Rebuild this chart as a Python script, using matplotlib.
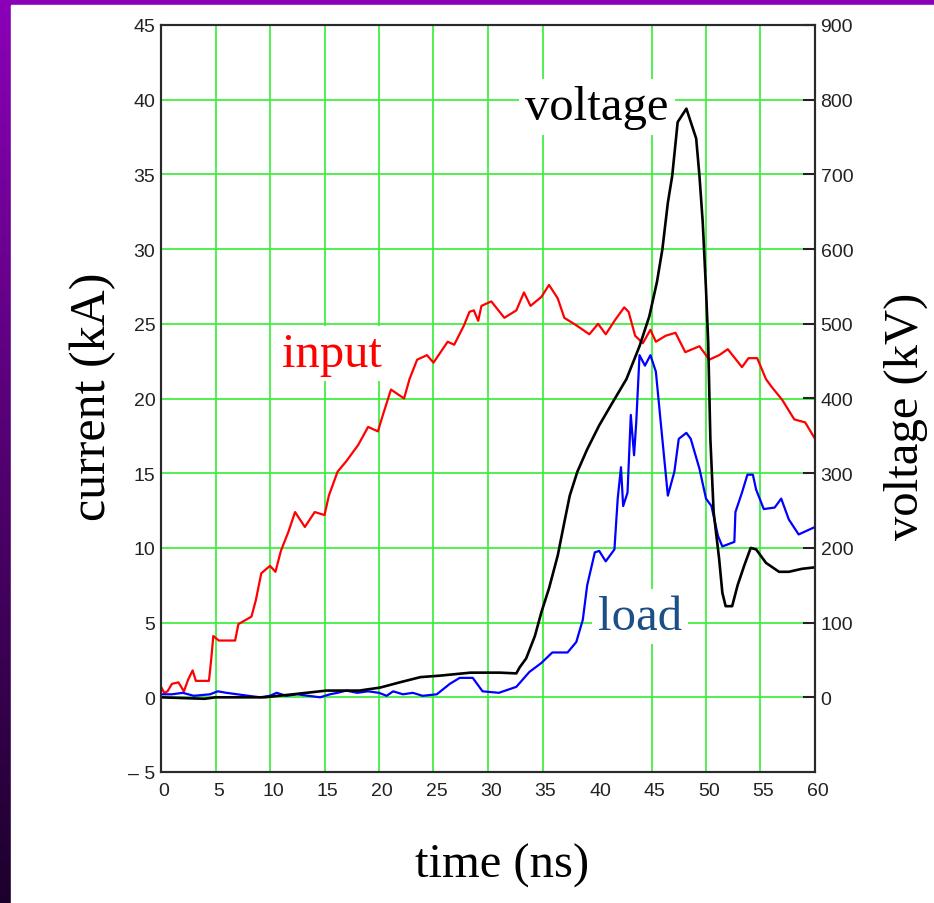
import numpy as np
import matplotlib
matplotlib.use('Agg')
import matplotlib.pyplot as plt
import matplotlib.transforms as mtransforms
from matplotlib.colors import LinearSegmentedColormap
from matplotlib.patches import Rectangle

# input current (kA)
t_input = [0, 0.3, 0.6, 1.0, 1.6, 2.1, 2.5, 2.9, 3.2, 4.4,
           4.6, 4.8, 5.3, 6.8, 7.1, 8.3, 8.7, 9.2, 10.0, 10.5,
           11.0, 11.7, 12.3, 13.2, 14.1, 15.0, 15.4, 16.2, 17.0, 18.1,
           19.0, 19.9, 20.4, 21.1, 22.3, 22.8, 23.5, 24.4, 25.0, 26.3,
           26.9, 27.8, 28.3, 28.7, 29.1, 29.4, 30.3, 31.5, 32.6, 33.3,
           33.9, 34.9, 35.6, 36.4, 37.0, 38.1, 39.3, 40.1, 40.8, 41.7,
           42.5, 42.9, 43.5, 44.2, 44.9, 45.4, 46.3, 47.2, 48.1, 49.4,
           50.3, 51.2, 52.0, 53.3, 53.9, 54.7, 55.5, 56.0, 57.0, 58.1,
           59.1, 60.0]
i_input = [0.7, 0.3, 0.4, 0.9, 1.0, 0.4, 1.2, 1.8, 1.1, 1.1,
           2.5, 4.1, 3.8, 3.8, 4.9, 5.4, 6.5, 8.3, 8.8, 8.4,
           9.8, 11.1, 12.4, 11.4, 12.4, 12.2, 13.5, 15.1, 15.8, 16.9,
           18.1, 17.8, 19.0, 20.6, 20.0, 21.3, 22.6, 22.9, 22.4, 23.8,
           23.6, 24.9, 25.8, 25.9, 25.2, 26.2, 26.5, 25.4, 25.9, 27.1,
           26.2, 26.8, 27.6, 26.7, 25.4, 24.9, 24.3, 25.0, 24.3, 25.3,
           26.1, 25.8, 24.2, 23.7, 24.6, 23.8, 24.2, 24.4, 23.1, 23.5,
           22.6, 22.9, 23.3, 22.1, 22.7, 22.7, 21.3, 20.8, 19.9, 18.6,
           18.4, 17.3]

# load current (kA)
t_load = [0, 1.0, 2.0, 3.0, 4.5, 5.2, 6.0, 7.0, 8.0, 9.1,
          10.0, 10.6, 11.5, 12.5, 13.5, 14.6, 15.5, 16.2, 17.0, 18.0,
          19.0, 20.0, 20.7, 21.3, 22.2, 23.1, 24.0, 25.3, 26.5, 27.4,
          28.6, 29.5, 31.0, 32.6, 33.8, 34.9, 35.9, 37.3, 38.1, 38.7,
          39.1, 39.8, 40.2, 40.8, 41.6, 41.9, 42.2, 42.4, 42.8, 43.1,
          43.4, 43.6, 43.9, 44.4, 44.9, 45.4, 45.9, 46.5, 47.1, 47.5,
          48.2, 48.6, 49.4, 50.0, 50.5, 51.1, 51.5, 52.6, 52.7, 53.3,
          53.8, 54.3, 54.6, 55.3, 56.3, 56.9, 57.6, 58.5, 60.0]
i_load = [0.2, 0.2, 0.3, 0.1, 0.2, 0.4, 0.3, 0.2, 0.1, 0.0,
          0.1, 0.3, 0.1, 0.2, 0.1, 0.0, 0.2, 0.3, 0.45, 0.3,
          0.4, 0.3, 0.1, 0.4, 0.2, 0.3, 0.1, 0.2, 0.9, 1.3,
          1.3, 0.4, 0.3, 0.7, 1.7, 2.3, 3.0, 3.0, 3.7, 5.2,
          7.5, 9.7, 9.8, 9.1, 9.9, 13.3, 15.4, 12.8, 13.7, 18.9,
          16.2, 18.4, 22.9, 22.2, 22.9, 21.8, 18.0, 13.5, 15.1, 17.3,
          17.7, 17.3, 15.3, 13.3, 12.8, 10.8, 10.1, 10.4, 12.4, 13.7,
          14.9, 14.9, 13.9, 12.6, 12.7, 13.3, 11.9, 10.9, 11.4]

# voltage (kV)
t_volt = [0, 4.0, 5.0, 9.5, 12.1, 15.2, 18.2, 20.1, 21.9, 23.8,
          25.6, 28.4, 31.1, 32.6, 32.9, 33.5, 34.3, 34.9, 35.6, 36.4,
          37.0, 37.5, 38.2, 39.1, 40.2, 41.4, 42.7, 43.9, 44.8, 45.5,
          46.0, 46.5, 46.9, 47.4, 48.2, 49.1, 49.4, 49.7, 50.0, 50.2,
          50.4, 50.7, 51.2, 51.5, 51.8, 52.4, 52.9, 53.5, 54.1, 54.6,
          55.5, 56.7, 57.6, 58.8, 60.0]
v_volt = [0, -2, 0, 0, 4, 9, 9, 13, 20, 27,
          29, 33, 33, 32, 40, 52, 82, 114, 146, 190,
          234, 270, 302, 332, 364, 394, 426, 470, 510, 556,
          600, 662, 698, 770, 788, 748, 698, 636, 546, 476,
          346, 248, 186, 140, 122, 122, 150, 176, 200, 198,
          180, 168, 168, 172, 174]

x_ticks = list(range(0, 61, 5))
x_grid = [5, 10, 15, 20, 25, 30, 35, 45, 50, 55]
y_ticks = list(range(-5, 46, 5))
y_labels = ['\u2013 5'] + [str(v) for v in range(0, 46, 5)]
v_ticks = list(range(0, 901, 100))

green = '#33ee33'
tick_font = ['Liberation Sans', 'DejaVu Sans']
serif = ['Liberation Serif', 'DejaVu Serif']

fig = plt.figure(figsize=(9.34, 9.04), dpi=100)

# purple frame at top and left
bg = fig.add_axes([0, 0, 1, 1], zorder=-10)
bg.axis('off')
cmap = LinearSegmentedColormap.from_list('frame', ['#8b00b8', '#1c002c'])
bg.imshow(np.linspace(0, 1, 256)[:, None], cmap=cmap, aspect='auto',
          extent=[0, 1, 0, 1])
bg.add_patch(Rectangle((11 / 934, 0), 1, 1 - 6 / 904, color='white'))
bg.set_xlim(0, 1)
bg.set_ylim(0, 1)

ax = fig.add_axes([161 / 934, 1 - 773 / 904, 654 / 934, 747 / 904])
ax.set_xlim(0, 60)
ax.set_ylim(-5, 45)
ax.set_axisbelow(True)
ax.grid(axis='y', color=green, lw=1.2)
ax.vlines(x_grid, -5, 45, color=green, lw=1.2, zorder=0.6)

ax.plot(t_input, i_input, color='red', lw=1.6, zorder=2)
ax.plot(t_load, i_load, color='blue', lw=1.6, zorder=2)

ax.set_xticks(x_ticks)
ax.set_yticks(y_ticks)
ax.set_yticklabels(y_labels)
ax.tick_params(length=0, labelsize=14, colors='#222222')
ax.tick_params(axis='x', pad=7)
ax.tick_params(axis='y', pad=4)
shift = mtransforms.ScaledTranslation(3 / 100, 0, fig.dpi_scale_trans)
for lbl in ax.get_xticklabels():
    lbl.set_family(tick_font)
    lbl.set_transform(lbl.get_transform() + shift)
for lbl in ax.get_yticklabels():
    lbl.set_family(tick_font)
for s in ax.spines.values():
    s.set_color('#2a2a2a')
    s.set_linewidth(1.5)

ax2 = ax.twinx()
ax2.set_ylim(-100, 900)
ax2.plot(t_volt, v_volt, color='black', lw=1.9)
ax2.set_yticks(v_ticks)
ax2.tick_params(axis='y', direction='in', length=9, width=1.5,
                colors='#222222', labelsize=14, pad=4)
for lbl in ax2.get_yticklabels():
    lbl.set_family(tick_font)
for s in ax2.spines.values():
    s.set_color('#2a2a2a')
    s.set_linewidth(1.5)

box = dict(boxstyle='square,pad=0.12', fc='white', ec='none')
ax.text(40.0, 38.7, 'voltage', color='black', fontsize=35, family=serif,
        ha='center', va='baseline', bbox=box, zorder=1)
ax.text(15.7, 22.2, 'input', color='red', fontsize=35, family=serif,
        ha='center', va='baseline', bbox=box, zorder=1)
ax.text(43.95, 4.6, 'load', color='#1b4f86', fontsize=35, family=serif,
        ha='center', va='baseline', bbox=box, zorder=1)

fig.text(93 / 934, 1 - 397 / 904, 'current (kA)', rotation=90, fontsize=36,
         family=serif, ha='center', va='center')
fig.text(906 / 934, 1 - 416 / 904, 'voltage (kV)', rotation=90, fontsize=35,
         family=serif, ha='center', va='center')
fig.text(502 / 934, 1 - 866 / 904, 'time (ns)', fontsize=35,
         family=serif, ha='center', va='center')

fig.savefig('out.png', dpi=100)
